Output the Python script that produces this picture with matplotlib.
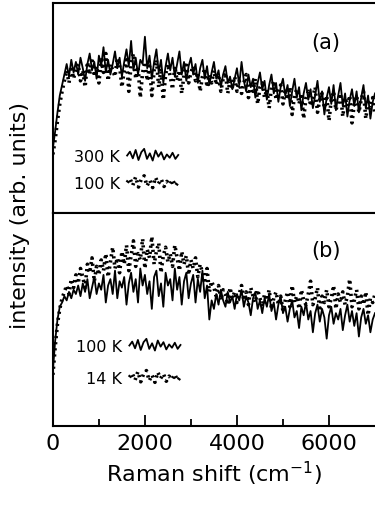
import numpy as np
import matplotlib
matplotlib.use("Agg")
import matplotlib.pyplot as plt
from matplotlib.lines import Line2D
from matplotlib.legend_handler import HandlerBase

# Raman shift sampling (cm^-1)
shift = np.arange(0, 7001, 50)

# panel (a): 300 K (solid) and 100 K (dotted), arb. units
a_300K = [31, 39, 48, 56, 61, 66, 71, 65, 73, 67, 72,
          66, 74, 69, 63, 71, 76, 68, 72, 64, 75,
          70, 79, 67, 73, 66, 71, 77, 69, 74, 65,
          72, 78, 70, 82, 68, 74, 66, 73, 71, 84,
          69, 75, 64, 72, 78, 67, 73, 62, 70, 76,
          68, 74, 65, 71, 77, 66, 72, 63, 70, 74,
          66, 71, 62, 69, 73, 64, 70, 61, 67, 72,
          64, 68, 60, 66, 70, 62, 65, 59, 64, 69,
          61, 72, 63, 58, 66, 60, 64, 55, 62, 67,
          59, 63, 54, 61, 66, 57, 62, 53, 60, 64,
          56, 61, 51, 58, 64, 55, 60, 49, 57, 62,
          54, 59, 50, 56, 63, 53, 58, 47, 55, 60,
          52, 61, 49, 56, 62, 51, 57, 46, 54, 59,
          51, 58, 48, 55, 61, 50, 56, 45, 53, 57]
a_100K = [28, 35, 44, 52, 58, 63, 68, 62, 70, 64, 69,
          71, 63, 68, 60, 72, 66, 74, 65, 70, 62,
          73, 67, 76, 63, 71, 68, 65, 74, 70, 60,
          68, 73, 58, 71, 76, 64, 70, 55, 67, 72,
          63, 70, 56, 68, 73, 60, 69, 54, 66, 71,
          65, 59, 70, 63, 68, 57, 66, 72, 62, 67,
          70, 63, 67, 58, 65, 69, 60, 66, 62, 68,
          61, 66, 58, 64, 67, 57, 63, 60, 65, 58,
          63, 57, 62, 66, 55, 61, 58, 64, 52, 60,
          62, 55, 59, 50, 60, 63, 54, 58, 61, 52,
          58, 54, 60, 47, 56, 59, 52, 57, 45, 55,
          58, 51, 55, 60, 48, 54, 57, 50, 56, 44,
          54, 58, 49, 53, 57, 46, 55, 51, 56, 43,
          52, 56, 48, 54, 58, 45, 53, 50, 55, 47]

# panel (b): 100 K (solid) and 14 K (dotted)
b_100K = [26, 40, 50, 56, 58, 61, 59, 63, 60, 64, 62,
          66, 61, 67, 63, 69, 60, 65, 70, 62, 67,
          64, 71, 58, 66, 69, 62, 73, 60, 68, 65,
          70, 57, 67, 72, 63, 69, 58, 74, 66, 71,
          62, 68, 55, 70, 73, 61, 67, 56, 72, 66,
          69, 59, 74, 64, 70, 57, 68, 72, 60, 67,
          71, 58, 69, 63, 73, 60, 66, 50, 59, 55,
          62, 57, 64, 59, 56, 63, 58, 61, 55, 62,
          59, 64, 56, 61, 58, 52, 60, 63, 55, 59,
          53, 60, 56, 62, 54, 58, 50, 57, 61, 53,
          56, 49, 55, 59, 51, 54, 46, 56, 52, 58,
          50, 54, 44, 53, 57, 49, 55, 51, 41, 52,
          56, 48, 53, 50, 55, 45, 52, 57, 49, 54,
          47, 53, 42, 51, 55, 48, 52, 44, 50, 53]
b_14K = [24, 37, 48, 55, 60, 63, 66, 62, 69, 65, 71,
         67, 74, 70, 65, 76, 72, 79, 68, 75, 71,
         78, 73, 81, 70, 77, 84, 74, 79, 72, 82,
         76, 85, 73, 80, 87, 75, 81, 78, 88, 74,
         83, 79, 89, 76, 82, 86, 72, 80, 84, 77,
         81, 75, 85, 79, 73, 82, 76, 80, 71, 78,
         74, 79, 70, 76, 72, 67, 74, 63, 68, 65,
         61, 66, 59, 64, 62, 57, 65, 60, 63, 58,
         62, 66, 59, 63, 57, 65, 61, 58, 64, 60,
         56, 62, 59, 64, 55, 60, 63, 57, 61, 54,
         59, 63, 56, 66, 58, 61, 55, 64, 59, 57,
         62, 68, 57, 60, 65, 54, 61, 58, 64, 56,
         60, 66, 55, 62, 58, 63, 57, 61, 69, 56,
         59, 64, 55, 61, 57, 63, 52, 60, 58, 62]

labels_a = ["300 K", "100 K"]
labels_b = ["100 K", "14 K"]
panel_tags = ["(a)", "(b)"]

# little noisy trace used as legend sample
wiggle = [0.0, 0.35, -0.25, 0.5, -0.4, 0.3, 0.6, -0.3, 0.2, -0.45,
          0.45, -0.1, 0.3, -0.35, 0.1, -0.2, 0.25, -0.3, 0.05]

plt.rcParams['font.family'] = ['DejaVu Sans']
plt.rcParams['mathtext.default'] = 'regular'


class WiggleHandler(HandlerBase):
    def create_artists(self, legend, orig_handle, xdescent, ydescent,
                       width, height, fontsize, trans):
        xs = np.linspace(-xdescent, -xdescent + width, len(wiggle))
        ys = (height - ydescent) / 2 + np.array(wiggle) * height
        line = Line2D(xs, ys)
        self.update_prop(line, orig_handle, legend)
        line.set_transform(trans)
        return [line]


fig = plt.figure(figsize=(3.75, 5.10), dpi=100)
ax1 = fig.add_axes([0.141, 0.580, 0.859, 0.412])
ax2 = fig.add_axes([0.141, 0.163, 0.859, 0.417], sharex=ax1)

solid_kw = dict(color='black', lw=1.3)
dot_kw = dict(color='black', lw=2.6, linestyle=(0, (0.6, 1.1)))

setups = [(ax1, a_300K, a_100K, labels_a, 0.205, 0.065, 0.75),
          (ax2, b_100K, b_14K, labels_b, 0.298, 0.072, 1.05)]
for i, (ax, hot, cold, labs, ly, lx, lsp) in enumerate(setups):
    l1, = ax.plot(shift, hot, **solid_kw)
    l2, = ax.plot(shift, cold, **dot_kw)
    ax.set_xlim(0, 7000)
    ax.set_ylim(0, 100)
    ax.set_yticks([])
    ax.spines['right'].set_visible(False)
    for s in ['left', 'top', 'bottom']:
        ax.spines[s].set_linewidth(1.5)
    leg = ax.legend([l1, l2], labs, loc='center left', bbox_to_anchor=(lx, ly),
                    frameon=False, markerfirst=False, fontsize=11.5,
                    handlelength=3.2, handletextpad=0.45, labelspacing=lsp,
                    borderpad=0, borderaxespad=0,
                    handler_map={Line2D: WiggleHandler()})
    ax.text(0.848, 0.814 if i == 0 else 0.826, panel_tags[i], transform=ax.transAxes,
            ha='center', va='center', fontsize=15)

ax1.tick_params(axis='x', which='both', bottom=False, labelbottom=False)
ax2.set_xticks([0, 2000, 4000, 6000])
ax2.set_xticks([1000, 3000, 5000], minor=True)
ax2.tick_params(axis='x', which='major', direction='in', length=8, width=1.3,
                labelsize=16, pad=5)
ax2.tick_params(axis='x', which='minor', direction='in', length=5, width=1.3)
ax2.set_xlabel('Raman shift (cm$^{-1}$)', fontsize=16, labelpad=4)

fig.text(0.053, 0.578, 'intensity (arb. units)', rotation=90,
         ha='center', va='center', fontsize=16)

fig.savefig('out.png', dpi=100)
